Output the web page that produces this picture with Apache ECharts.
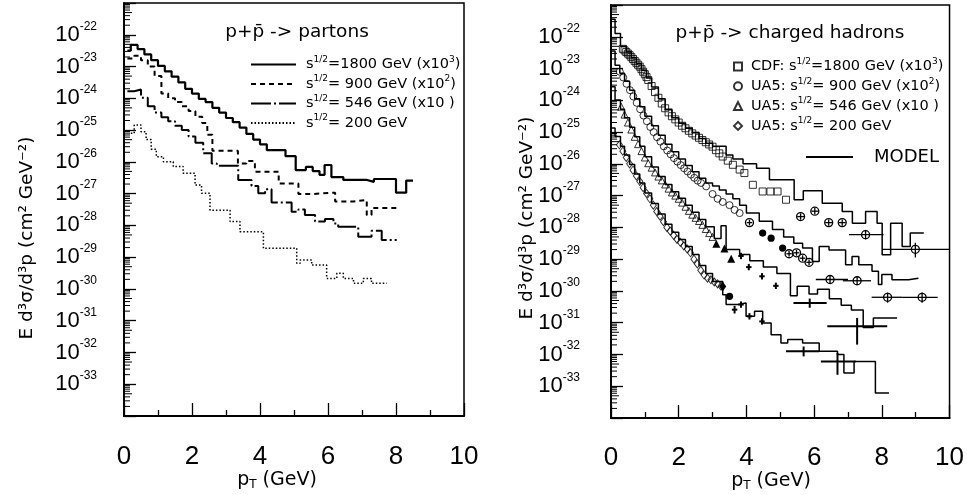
<!DOCTYPE html>
<html>
<head>
<meta charset="utf-8">
<script src="https://cdn.jsdelivr.net/npm/echarts@6/dist/echarts.min.js"></script>
<style>
html,body{margin:0;padding:0;background:#fff;}
#chart{width:967px;height:495px;}
</style>
</head>
<body>
<div id="chart"></div>
<script>
// All y values are log10 of E d3sigma/d3p [cm^2 GeV^-2]; x values are pT [GeV].

// ---------- Left panel: p+pbar -> partons (step histograms: bin edges + value per bin) ----------
const partons1800Edges = [0.1,0.2,0.4,0.6,0.8,1.0,1.2,1.4,1.6,1.8,2.0,2.2,2.4,2.6,2.8,3.0,3.2,3.4,3.6,3.8,4.0,4.2,4.75,5.05,5.35,5.55,5.75,5.9,6.1,6.45,7.15,7.35,8.0,8.3,8.5];
const partons1800Log = [-22.5,-22.32,-22.45,-22.62,-22.8,-22.98,-23.15,-23.32,-23.5,-23.7,-23.85,-24.02,-24.12,-24.3,-24.45,-24.62,-24.75,-24.92,-25.12,-25.3,-25.45,-25.63,-25.82,-26.26,-26.16,-26.29,-26.41,-26.1,-26.48,-26.57,-26.63,-26.54,-26.97,-26.59];

const partons900Edges = [0.1,0.3,0.5,0.7,0.9,1.1,1.3,1.5,1.7,1.9,2.1,2.3,2.45,2.6,3.35,3.6,3.85,4.55,5.13,5.57,6.21,6.75,7.14,7.28,8.02];
const partons900Log = [-22.75,-22.66,-22.8,-23.0,-23.3,-23.85,-24.0,-24.12,-24.25,-24.4,-24.58,-24.78,-25.15,-25.65,-26.05,-25.97,-26.31,-26.68,-27.01,-26.97,-27.25,-27.2,-27.67,-27.45];

const partons546Edges = [0.1,0.3,0.5,0.7,0.9,1.1,1.3,1.5,1.7,1.9,2.1,2.33,2.58,2.73,3.36,3.75,3.95,4.15,4.34,4.93,5.13,5.32,5.62,5.91,6.16,6.3,6.89,7.28,7.58,8.02];
const partons546Log = [-23.78,-23.72,-23.98,-24.25,-24.45,-24.6,-24.72,-24.86,-25.0,-25.2,-25.4,-25.73,-26.05,-26.12,-26.57,-26.76,-26.99,-26.86,-27.28,-27.57,-27.5,-27.67,-27.88,-27.8,-27.94,-28.04,-28.36,-28.17,-28.46];

const partons200Edges = [0.2,0.3,0.5,0.65,0.8,0.95,1.16,1.45,1.74,2.09,2.28,2.53,3.12,3.41,4.1,5.08,5.18,5.52,5.96,6.26,6.45,6.75,7.04,7.28,7.73];
const partons200Log = [-25.1,-24.84,-25.05,-25.3,-25.6,-25.84,-26.0,-26.15,-26.36,-26.73,-26.99,-27.52,-27.88,-28.2,-28.72,-29.19,-29.09,-29.25,-29.67,-29.51,-29.67,-29.82,-29.67,-29.82];

// ---------- Right panel: p+pbar -> charged hadrons, MODEL step histograms ----------
const model1800Edges = [0,0.12,0.28,0.45,0.6,0.75,0.9,1.05,1.2,1.4,1.6,1.8,2.0,2.2,2.4,2.6,2.8,3.0,3.4,3.6,3.9,4.3,4.68,5.41,5.68,6.24,6.83,7.13,7.52,7.86,8.01,8.26,8.6,8.84,9.24];
const model1800Log = [-21.45,-21.9,-22.3,-22.48,-22.66,-22.85,-23.05,-23.3,-23.58,-23.95,-24.3,-24.55,-24.72,-24.88,-25.02,-25.2,-25.35,-25.45,-25.72,-25.85,-26.0,-26.14,-26.5,-27.13,-26.85,-27.24,-27.5,-27.87,-27.5,-27.87,-28.86,-27.87,-28.6,-28.18];

const model900Edges = [0,0.12,0.26,0.4,0.55,0.7,0.85,1.0,1.2,1.4,1.6,1.8,2.0,2.2,2.4,2.6,2.8,3.0,3.2,3.4,3.6,3.8,4.0,4.38,4.77,5.1,5.4,5.66,5.95,6.15,6.44,6.93,7.12,7.32,7.71,7.9,8.0,8.3,8.79,9.08];
const model900Log = [-22.45,-22.9,-23.15,-23.4,-23.68,-23.95,-24.2,-24.5,-24.8,-25.1,-25.38,-25.62,-25.85,-26.05,-26.25,-26.45,-26.6,-26.7,-26.82,-26.95,-27.1,-27.3,-27.55,-27.81,-28.07,-28.3,-28.5,-28.65,-29.07,-28.6,-28.71,-29.18,-28.92,-29.18,-29.38,-29.8,-29.48,-29.65,-29.6];

const model546Edges = [0,0.12,0.28,0.4,0.55,0.7,0.85,1.0,1.2,1.4,1.6,1.8,2.0,2.2,2.4,2.6,2.8,3.05,3.25,3.4,3.8,4.1,4.5,4.9,5.3,5.5,5.85,6.1,6.45,6.8,7.1,7.45,7.75,8.45];
const model546Log = [-23.57,-23.99,-24.28,-24.55,-24.85,-25.15,-25.45,-25.78,-26.1,-26.4,-26.65,-26.88,-27.08,-27.3,-27.52,-27.75,-27.98,-28.35,-27.95,-28.7,-28.85,-29.05,-29.25,-29.45,-30.15,-29.85,-30.1,-29.95,-30.25,-30.45,-30.6,-31.15,-30.85];

const model200Edges = [0,0.12,0.28,0.4,0.55,0.7,0.85,1.0,1.2,1.4,1.6,1.8,2.0,2.2,2.4,2.6,2.8,3.0,3.3,3.4,3.75,3.99,4.24,4.48,4.73,5.02,5.22,5.66,6.15,6.69,6.88,7.18,7.81,8.21];
const model200Log = [-24.87,-25.14,-25.45,-25.72,-26.02,-26.32,-26.6,-26.92,-27.25,-27.58,-27.9,-28.15,-28.38,-28.6,-28.85,-29.2,-29.45,-29.7,-30.12,-30.43,-30.38,-30.8,-30.64,-31.01,-31.38,-31.64,-31.53,-31.64,-31.9,-32.0,-32.58,-32.22,-33.21];

// ---------- Right panel: measured data (open markers) ----------
const cdf1800PT = [0.35,0.4,0.45,0.5,0.55,0.6,0.65,0.7,0.75,0.8,0.85,0.9,0.95,1.0,1.05,1.1,1.2,1.3,1.4,1.5,1.6,1.7,1.8,1.9,2.0,2.1,2.2,2.3,2.4,2.5,2.6,2.7,2.8,2.9,3.0,3.1,3.2,3.3,3.45,3.6,3.8,3.94,4.19,4.48,4.71,4.92,5.17];
const cdf1800Log = [-22.38,-22.43,-22.48,-22.53,-22.58,-22.64,-22.7,-22.76,-22.82,-22.88,-22.94,-23.02,-23.1,-23.18,-23.27,-23.36,-23.55,-23.74,-23.92,-24.1,-24.25,-24.38,-24.5,-24.6,-24.7,-24.8,-24.88,-24.96,-25.04,-25.11,-25.18,-25.25,-25.32,-25.39,-25.46,-25.57,-25.67,-25.77,-25.9,-26.03,-26.18,-26.29,-26.66,-26.87,-26.87,-26.87,-27.13];

const ua5900PT = [0.26,0.36,0.46,0.56,0.66,0.76,0.86,0.96,1.06,1.16,1.26,1.36,1.46,1.56,1.66,1.76,1.86,1.96,2.06,2.16,2.26,2.36,2.46,2.56,2.66,2.81,3.0,3.15,3.3,3.5,3.65,3.8];
const ua5900Log = [-23.1,-23.28,-23.48,-23.68,-23.88,-24.08,-24.28,-24.48,-24.66,-24.84,-25.0,-25.16,-25.3,-25.45,-25.58,-25.7,-25.82,-25.93,-26.04,-26.14,-26.24,-26.34,-26.44,-26.53,-26.6,-26.71,-26.95,-27.1,-27.2,-27.3,-27.45,-27.55];

const ua5546PT = [0.3,0.4,0.5,0.6,0.7,0.8,0.9,1.0,1.1,1.2,1.3,1.4,1.5,1.6,1.7,1.8,1.9,2.0,2.1,2.2,2.3,2.4,2.5,2.6,2.7,2.8,2.9,3.0];
const ua5546Log = [-24.2,-24.45,-24.7,-24.92,-25.15,-25.38,-25.6,-25.8,-25.98,-26.12,-26.27,-26.4,-26.52,-26.65,-26.78,-26.9,-27.0,-27.1,-27.22,-27.35,-27.48,-27.6,-27.7,-27.8,-27.92,-28.05,-28.18,-28.3];

const ua5200PT = [0.25,0.35,0.45,0.55,0.65,0.75,0.85,0.95,1.05,1.15,1.25,1.35,1.45,1.55,1.65,1.75,1.85,1.95,2.05,2.15,2.25,2.35,2.45,2.55,2.65,2.75,2.85,2.95,3.05,3.15,3.25];
const ua5200Log = [-25.4,-25.6,-25.8,-26.0,-26.2,-26.38,-26.55,-26.75,-26.93,-27.1,-27.3,-27.5,-27.65,-27.82,-28.0,-28.12,-28.25,-28.38,-28.47,-28.58,-28.68,-28.8,-29.0,-29.15,-29.35,-29.5,-29.6,-29.65,-29.72,-29.78,-29.85];

// High-pT data with error bars: [pT, log, pTlow, pThigh, logHigh, logLow, marker]
const cdf1800Err = [
  [5.60,-27.66,5.50,5.70,-27.56,-27.76,'oc'],
  [6.02,-27.49,5.92,6.12,-27.39,-27.59,'oc'],
  [6.43,-27.85,6.33,6.53,-27.75,-27.95,'oc'],
  [6.83,-27.85,6.73,6.93,-27.75,-27.95,'oc'],
  [7.52,-28.23,7.03,8.05,-28.08,-28.38,'oc'],
  [8.99,-28.69,8.01,10.0,-28.48,-28.95,'oc']
];
const ua5900Err = [
  [4.09,-27.85,4.01,4.17,-27.76,-27.94,'oc'],
  [4.48,-28.18,4.48,4.48,-28.18,-28.18,'fc'],
  [4.73,-28.34,4.73,4.73,-28.34,-28.34,'fc'],
  [5.07,-28.65,5.07,5.07,-28.65,-28.65,'fc'],
  [5.26,-28.83,5.18,5.34,-28.74,-28.92,'oc'],
  [5.48,-28.80,5.40,5.56,-28.71,-28.89,'oc'],
  [5.66,-28.97,5.58,5.74,-28.88,-29.06,'oc'],
  [5.85,-29.10,5.77,5.93,-29.01,-29.19,'oc'],
  [6.47,-29.64,6.05,7.00,-29.52,-29.77,'oc'],
  [7.27,-29.68,6.85,7.68,-29.55,-29.81,'oc'],
  [8.17,-30.20,7.70,8.60,-30.05,-30.37,'oc'],
  [9.19,-30.20,8.60,9.65,-30.05,-30.37,'oc']
];
const ua5546Err = [
  [3.11,-28.55,3.11,3.11,-28.55,-28.55,'ft'],
  [3.35,-28.70,3.35,3.35,-28.70,-28.70,'ft'],
  [3.55,-29.02,3.55,3.55,-29.02,-29.02,'ft'],
  [3.84,-28.90,3.76,3.92,-28.80,-29.00,'x'],
  [4.07,-29.25,3.99,4.15,-29.15,-29.35,'x'],
  [4.46,-29.54,4.38,4.54,-29.44,-29.64,'x'],
  [4.87,-29.84,4.79,4.95,-29.74,-29.94,'x'],
  [5.87,-30.38,5.39,6.37,-30.24,-30.53,'x'],
  [7.27,-31.11,6.39,8.16,-30.85,-31.69,'x']
];
const ua5200Err = [
  [3.30,-29.86,3.30,3.30,-29.86,-29.86,'fd'],
  [3.50,-30.17,3.50,3.50,-30.17,-30.17,'fc'],
  [3.65,-30.59,3.57,3.73,-30.47,-30.71,'x'],
  [3.84,-30.43,3.76,3.92,-30.33,-30.53,'x'],
  [4.09,-30.80,4.01,4.17,-30.70,-30.90,'x'],
  [4.46,-30.96,4.38,4.54,-30.86,-31.06,'x'],
  [5.69,-31.90,5.17,6.15,-31.75,-32.06,'x'],
  [6.69,-32.22,6.20,7.23,-31.95,-32.64,'x']
];

// ---------- Axis tick labels ----------
const xTickLabels = [0,2,4,6,8,10];
const yLabelExponents = [-22,-23,-24,-25,-26,-27,-28,-29,-30,-31,-32,-33];
const minorMantissas = [2,3,4,5,6,7,8,9];
const decadeStarts = [-34,-33,-32,-31,-30,-29,-28,-27,-26,-25,-24,-23,-22];

// ---------- Legend texts ----------
const legendLeftNames = ['p1800','p900','p546','p200'];
const legendRightNames = ['cdf','u900','u546','u200'];
const legendTexts = {
  p1800: '{t|s}{u|1/2}{t|=1800 GeV (x10}{u|3}{t|)}',
  p900:  '{t|s}{u|1/2}{t|= 900 GeV (x10}{u|2}{t|)}',
  p546:  '{t|s}{u|1/2}{t|= 546 GeV (x10 )}',
  p200:  '{t|s}{u|1/2}{t|= 200 GeV}',
  cdf:   '{t|CDF: s}{u|1/2}{t|=1800 GeV (x10}{u|3}{t|)}',
  u900:  '{t|UA5: s}{u|1/2}{t|= 900 GeV (x10}{u|2}{t|)}',
  u546:  '{t|UA5: s}{u|1/2}{t|= 546 GeV (x10 )}',
  u200:  '{t|UA5: s}{u|1/2}{t|= 200 GeV}'
};

// ---------- Build ----------
const BLACK = '#000';
const FONT = 'DejaVu Sans';
const yLabelSet = new Set(yLabelExponents);

function hist(edges, logs) {
  const d = logs.map((v, i) => [edges[i], v]);
  d.push([edges[edges.length - 1], logs[logs.length - 1]]);
  return d;
}
function pairs(xs, ys) { return xs.map((x, i) => [x, ys[i]]); }

const minorTickRows = [];
decadeStarts.forEach(n => minorMantissas.forEach(k => {
  minorTickRows.push([0, n + Math.log10(k), k === 5 ? 8 : 6]);
}));

function xAxisCfg(gi, margin) {
  return {
    type: 'value', gridIndex: gi, min: 0, max: 10, interval: 2,
    axisLine: { show: true, onZero: false, lineStyle: { color: BLACK, width: 2 } },
    axisTick: { show: true, inside: true, length: 13, lineStyle: { color: BLACK, width: 1.3 } },
    minorTick: { show: true, splitNumber: 2, length: 6, lineStyle: { color: BLACK, width: 1.3 } },
    splitLine: { show: false },
    axisLabel: { margin: margin, color: BLACK, fontFamily: 'Liberation Sans', fontSize: 26,
      formatter: v => xTickLabels.indexOf(v) >= 0 ? String(v) : '' }
  };
}
function yAxisCfg(gi, margin) {
  return {
    type: 'value', gridIndex: gi, min: -34, max: -21, interval: 1,
    axisLine: { show: true, onZero: false, lineStyle: { color: BLACK, width: 2 } },
    axisTick: { show: true, inside: true, length: 12, lineStyle: { color: BLACK, width: 1.3 } },
    splitLine: { show: false },
    axisLabel: { margin: margin, color: BLACK,
      formatter: v => yLabelSet.has(Math.round(v)) ? '{b|10}{s|' + Math.round(v) + '}' : '',
      rich: {
        b: { fontFamily: 'Liberation Sans', fontSize: 22, color: BLACK },
        s: { fontFamily: 'Liberation Sans', fontSize: 12, color: BLACK, padding: [0, 0, 17, 0] }
      } }
  };
}

function minorTickSeries(gi) {
  return {
    type: 'custom', xAxisIndex: gi, yAxisIndex: gi, silent: true, z: 5,
    data: minorTickRows,
    renderItem: (params, api) => {
      const p = api.coord([0, api.value(1)]);
      const len = api.value(2);
      return { type: 'line', shape: { x1: p[0], y1: p[1], x2: p[0] + len, y2: p[1] },
        style: { stroke: BLACK, lineWidth: 1 } };
    }
  };
}

function histSeries(name, gi, edges, logs, width, dash) {
  return {
    type: 'line', name: name, xAxisIndex: gi, yAxisIndex: gi,
    data: hist(edges, logs), step: 'end', symbol: 'none', showSymbol: false,
    lineStyle: { color: BLACK, width: width, type: dash },
    itemStyle: { color: BLACK }, z: 3
  };
}

function scatterSeries(name, xs, ys, symbol, size) {
  return {
    type: 'scatter', name: name, xAxisIndex: 1, yAxisIndex: 1,
    data: pairs(xs, ys), symbol: symbol, symbolSize: size,
    itemStyle: { color: 'rgba(255,255,255,0)', borderColor: BLACK, borderWidth: 1 }, z: 4
  };
}

function errSeries(rows) {
  return {
    type: 'custom', xAxisIndex: 1, yAxisIndex: 1, silent: true, z: 6,
    data: rows.map(r => [r[0], r[1]]),
    renderItem: (params, api) => {
      const r = rows[params.dataIndex];
      const c = api.coord([r[0], r[1]]);
      const a = api.coord([r[2], r[1]]), b = api.coord([r[3], r[1]]);
      const u = api.coord([r[0], r[4]]), d = api.coord([r[0], r[5]]);
      const kind = r[6];
      const lw = kind === 'x' ? 2 : 1.3;
      const ch = [];
      if (b[0] - a[0] > 0.5) ch.push({ type: 'line', shape: { x1: a[0], y1: a[1], x2: b[0], y2: b[1] }, style: { stroke: BLACK, lineWidth: lw } });
      if (d[1] - u[1] > 0.5) ch.push({ type: 'line', shape: { x1: u[0], y1: u[1], x2: d[0], y2: d[1] }, style: { stroke: BLACK, lineWidth: lw } });
      if (kind === 'oc') ch.push({ type: 'circle', shape: { cx: c[0], cy: c[1], r: 4 }, style: { fill: 'none', stroke: BLACK, lineWidth: 1.3 } });
      if (kind === 'fc') ch.push({ type: 'circle', shape: { cx: c[0], cy: c[1], r: 3.6 }, style: { fill: BLACK } });
      if (kind === 'ft') ch.push({ type: 'polygon', shape: { points: [[c[0], c[1] - 5], [c[0] - 4, c[1] + 3], [c[0] + 4, c[1] + 3]] }, style: { fill: BLACK } });
      if (kind === 'fd') ch.push({ type: 'polygon', shape: { points: [[c[0], c[1] - 5], [c[0] + 3.5, c[1]], [c[0], c[1] + 5], [c[0] - 3.5, c[1]]] }, style: { fill: BLACK } });
      return { type: 'group', children: ch };
    }
  };
}

const legendRich = {
  t: { fontFamily: FONT, fontSize: 14.5, color: BLACK },
  u: { fontFamily: FONT, fontSize: 9, color: BLACK, padding: [0, 0, 10, 0] }
};

const option = {
  animation: false,
  backgroundColor: '#fff',
  textStyle: { fontFamily: FONT, color: BLACK },
  grid: [
    { left: 124, top: 3, width: 340, height: 413, show: true, borderColor: BLACK, borderWidth: 1.5, backgroundColor: 'transparent' },
    { left: 611, top: 5, width: 340, height: 413, show: true, borderColor: BLACK, borderWidth: 1.5, backgroundColor: 'transparent' }
  ],
  xAxis: [xAxisCfg(0, 28), xAxisCfg(1, 27)],
  yAxis: [yAxisCfg(0, 27), yAxisCfg(1, 31)],
  legend: [
    { data: legendLeftNames, left: 250, top: 55, orient: 'vertical', padding: 0, itemGap: 2.5,
      itemWidth: 45, itemHeight: 10, selectedMode: false, itemStyle: { opacity: 0 },
      formatter: n => legendTexts[n], textStyle: { color: BLACK, fontFamily: FONT, fontSize: 14.5, padding: [0, 0, 0, 5], rich: legendRich } },
    { data: legendRightNames, left: 733, top: 57, orient: 'vertical', padding: 0, itemGap: 2.8,
      itemWidth: 8, itemHeight: 8, selectedMode: false,
      formatter: n => legendTexts[n], textStyle: { color: BLACK, fontFamily: FONT, fontSize: 14.5, padding: [0, 0, 0, 4], rich: legendRich } },
    { data: ['MODEL'], left: 805, top: 148, orient: 'vertical', padding: 0,
      itemWidth: 47, itemHeight: 10, selectedMode: false, itemStyle: { opacity: 0 },
      textStyle: { color: BLACK, fontFamily: FONT, fontSize: 18, padding: [0, 0, 0, 16] } }
  ],
  graphic: [
    { type: 'text', x: 297, y: 32, style: { text: 'p+p\u0304 -> partons', font: '18.5px "DejaVu Sans"', fill: BLACK, align: 'center', verticalAlign: 'middle' } },
    { type: 'text', x: 790, y: 33, style: { text: 'p+p\u0304 -> charged hadrons', font: '18.5px "DejaVu Sans"', fill: BLACK, align: 'center', verticalAlign: 'middle' } },
    { type: 'text', x: 27, y: 238, rotation: Math.PI / 2, style: { text: 'E d\u00b3\u03c3/d\u00b3p (cm\u00b2 GeV\u207b\u00b2)', font: '18.5px "DejaVu Sans"', fill: BLACK, align: 'center', verticalAlign: 'middle' } },
    { type: 'text', x: 527, y: 218, rotation: Math.PI / 2, style: { text: 'E d\u00b3\u03c3/d\u00b3p (cm\u00b2 GeV\u207b\u00b2)', font: '18.5px "DejaVu Sans"', fill: BLACK, align: 'center', verticalAlign: 'middle' } },
    { type: 'text', x: 277, y: 480, style: { text: '{a|p}{b|T}{a| (GeV)}', align: 'center', verticalAlign: 'middle',
        rich: { a: { fontFamily: FONT, fontSize: 19, color: BLACK }, b: { fontFamily: FONT, fontSize: 12, color: BLACK, padding: [9, 0, 0, 0] } } } },
    { type: 'text', x: 771, y: 481, style: { text: '{a|p}{b|T}{a| (GeV)}', align: 'center', verticalAlign: 'middle',
        rich: { a: { fontFamily: FONT, fontSize: 19, color: BLACK }, b: { fontFamily: FONT, fontSize: 12, color: BLACK, padding: [9, 0, 0, 0] } } } }
  ],
  series: [
    minorTickSeries(0),
    minorTickSeries(1),
    histSeries('p1800', 0, partons1800Edges, partons1800Log, 2.2, 'solid'),
    histSeries('p900', 0, partons900Edges, partons900Log, 2, [5, 4]),
    histSeries('p546', 0, partons546Edges, partons546Log, 2, [20, 3, 2, 3]),
    histSeries('p200', 0, partons200Edges, partons200Log, 1.5, [1.5, 2]),
    histSeries('MODEL', 1, model1800Edges, model1800Log, 1.5, 'solid'),
    histSeries('MODEL', 1, model900Edges, model900Log, 1.5, 'solid'),
    histSeries('MODEL', 1, model546Edges, model546Log, 1.5, 'solid'),
    histSeries('MODEL', 1, model200Edges, model200Log, 1.5, 'solid'),
    scatterSeries('cdf', cdf1800PT, cdf1800Log, 'rect', 7),
    scatterSeries('u900', ua5900PT, ua5900Log, 'circle', 7),
    scatterSeries('u546', ua5546PT, ua5546Log, 'triangle', 7),
    scatterSeries('u200', ua5200PT, ua5200Log, 'diamond', [6, 8]),
    errSeries(cdf1800Err),
    errSeries(ua5900Err),
    errSeries(ua5546Err),
    errSeries(ua5200Err)
  ]
};

const chart = echarts.init(document.getElementById('chart'), null, { renderer: 'canvas' });
chart.setOption(option);
</script>
</body>
</html>
